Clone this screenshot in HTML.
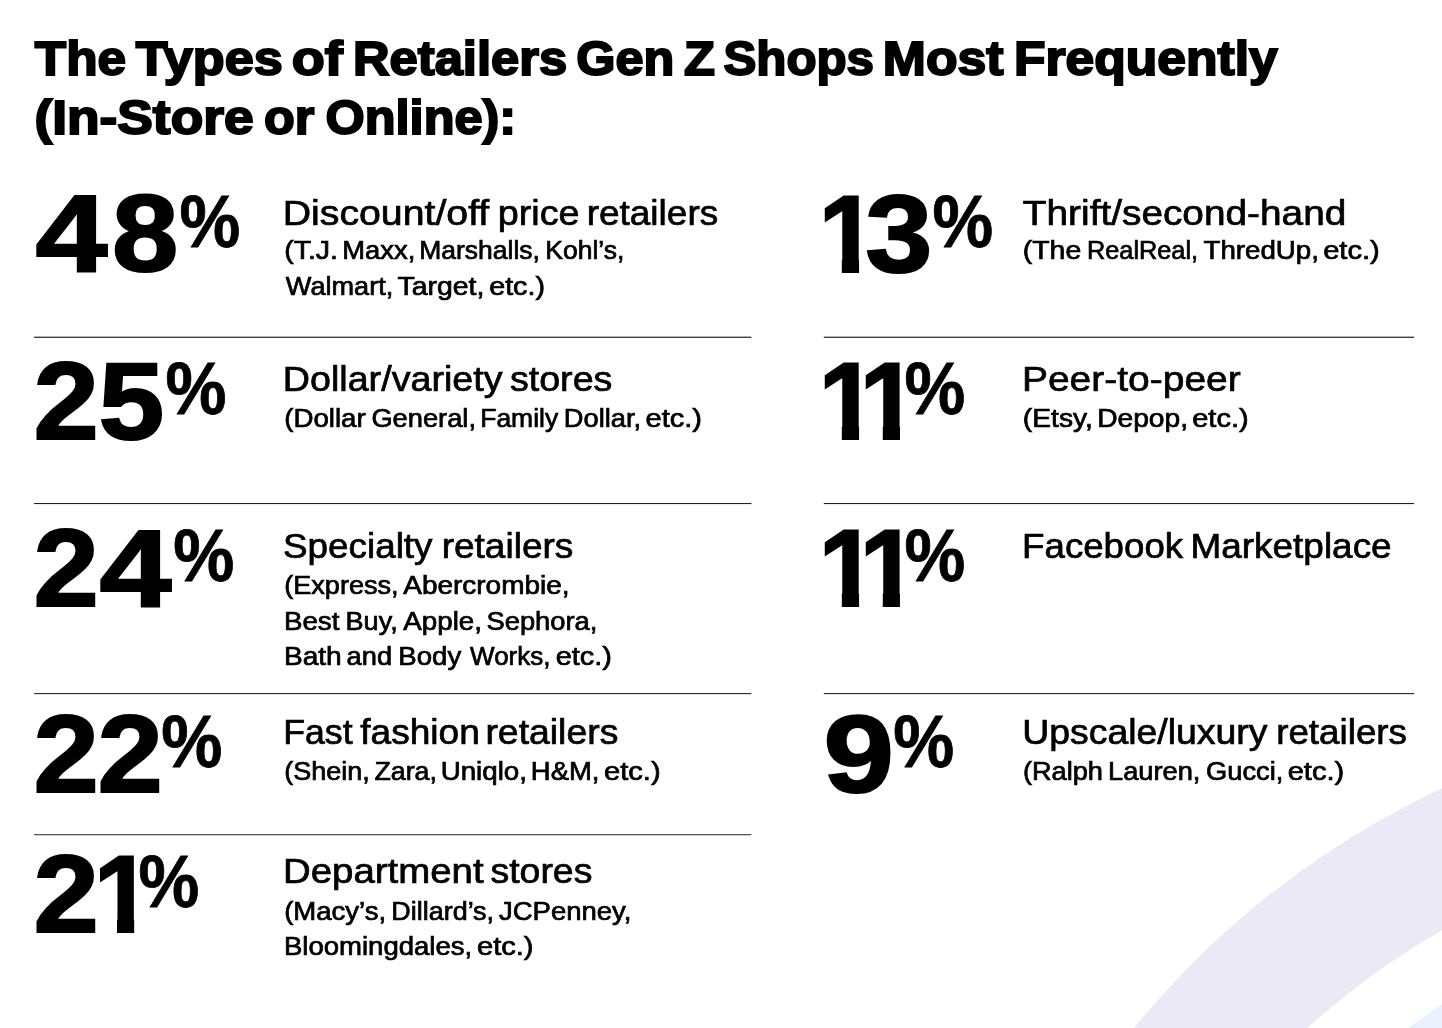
<!DOCTYPE html>
<html lang="en"><head><meta charset="utf-8"><title>The Types of Retailers Gen Z Shops Most Frequently</title>
<style>
html,body{margin:0;padding:0;background:#fff}
body{width:1442px;height:1028px;position:relative;overflow:hidden}
#bg{position:absolute;left:0;top:0}
.t{position:absolute;left:0;top:0;white-space:nowrap;line-height:1;font-family:"Liberation Sans",sans-serif;color:#000;transform-origin:0 0;-webkit-text-stroke-color:#000}
h1,div,p{margin:0;padding:0;font-size:inherit;font-weight:inherit}
.title{font-size:48.3px;font-weight:700;-webkit-text-stroke-width:2.0px}
.num{font-size:110.2px;font-weight:700;-webkit-text-stroke-width:2.0px}
.pct{font-size:73.3px;font-weight:700;-webkit-text-stroke-width:0.8px}
.head{font-size:34.3px;font-weight:400;-webkit-text-stroke-width:0.7px}
.sub{font-size:25.0px;font-weight:400;-webkit-text-stroke-width:0.7px}
</style></head>
<body>
<svg id="bg" width="1442" height="1028" viewBox="0 0 1442 1028"><circle cx="1812.5" cy="1583.6" r="877.1" fill="#ebe9f6"/><circle cx="1812.5" cy="1583.6" r="750.9" fill="#fff"/><circle cx="1812.5" cy="1583.6" r="687.2" fill="#eaf0fd"/><rect x="34.1" y="336.68" width="717.3" height="1.12" fill="#111"/><rect x="34.1" y="503.07" width="717.3" height="1.0" fill="#111"/><rect x="34.1" y="693.14" width="717.3" height="1.0" fill="#111"/><rect x="34.1" y="834.29" width="717.3" height="0.92" fill="#111"/><rect x="823.8" y="336.68" width="590.3" height="1.12" fill="#111"/><rect x="823.8" y="503.07" width="590.3" height="1.0" fill="#111"/><rect x="823.8" y="693.14" width="590.3" height="1.0" fill="#111"/></svg>
<h1><span class="t title" style="transform:translate(34.78px,34px) scaleX(1.0635)">The</span> <span class="t title" style="transform:translate(135.79px,34px) scaleX(1.0801)">Types</span> <span class="t title" style="transform:translate(291.80px,34px) scaleX(1.1206)">of</span> <span class="t title" style="transform:translate(352.96px,34px) scaleX(1.0496)">Retailers</span> <span class="t title" style="transform:translate(576.17px,34px) scaleX(1.0444)">Gen</span> <span class="t title" style="transform:translate(683.94px,34px) scaleX(1.0499)">Z</span> <span class="t title" style="transform:translate(723.39px,34px) scaleX(1.0208)">Shops</span> <span class="t title" style="transform:translate(882.81px,34px) scaleX(1.0714)">Most</span> <span class="t title" style="transform:translate(1013.92px,34px) scaleX(1.0684)">Frequently</span> <span class="t title" style="transform:translate(34.39px,93px) scaleX(1.1042)">(In-Store</span> <span class="t title" style="transform:translate(263.97px,93px) scaleX(1.0426)">or</span> <span class="t title" style="transform:translate(325.47px,93px) scaleX(1.0454)">Online):</span></h1>
<div><div><span class="t num" style="transform:translate(35.62px,178px) scaleX(1.1749)">4</span><span class="t num" style="transform:translate(111.89px,178px) scaleX(1.0834)">8</span><span class="t pct" style="transform:translate(179.57px,186px) scaleX(0.9323)">%</span></div>
<p><span class="t head" style="transform:translate(282.68px,196px) scaleX(1.1446)">Discount/off</span> <span class="t head" style="transform:translate(497.68px,196px) scaleX(1.1008)">price</span> <span class="t head" style="transform:translate(586.63px,196px) scaleX(1.0785)">retailers</span> <span class="t sub" style="transform:translate(284.13px,238px) scaleX(1.1416)">(T.J.</span> <span class="t sub" style="transform:translate(342.24px,238px) scaleX(1.0951)">Maxx,</span> <span class="t sub" style="transform:translate(419.30px,238px) scaleX(1.0585)">Marshalls,</span> <span class="t sub" style="transform:translate(545.30px,238px) scaleX(1.0596)">Kohl’s,</span> <span class="t sub" style="transform:translate(285.83px,274px) scaleX(1.0844)">Walmart,</span> <span class="t sub" style="transform:translate(397.56px,274px) scaleX(1.1354)">Target,</span> <span class="t sub" style="transform:translate(489.18px,274px) scaleX(1.1475)">etc.)</span></p>
</div>
<div><div><span class="t num" style="transform:translate(33.39px,346px) scaleX(1.0662)">2</span><span class="t num" style="transform:translate(98.47px,346px) scaleX(1.0728)">5</span><span class="t pct" style="transform:translate(165.46px,353px) scaleX(0.9355)">%</span></div>
<p><span class="t head" style="transform:translate(282.80px,362px) scaleX(1.0981)">Dollar/variety</span> <span class="t head" style="transform:translate(509.88px,362px) scaleX(1.0975)">stores</span> <span class="t sub" style="transform:translate(284.17px,406px) scaleX(1.1082)">(Dollar</span> <span class="t sub" style="transform:translate(371.40px,406px) scaleX(1.0906)">General,</span> <span class="t sub" style="transform:translate(480.20px,406px) scaleX(1.0592)">Family</span> <span class="t sub" style="transform:translate(563.85px,406px) scaleX(1.0894)">Dollar,</span> <span class="t sub" style="transform:translate(645.57px,406px) scaleX(1.1582)">etc.)</span></p>
</div>
<div><div><span class="t num" style="transform:translate(33.39px,513px) scaleX(1.0662)">2</span><span class="t num" style="transform:translate(99.42px,513px) scaleX(1.1749)">4</span><span class="t pct" style="transform:translate(173.26px,520px) scaleX(0.9371)">%</span></div>
<p><span class="t head" style="transform:translate(282.93px,529px) scaleX(1.0747)">Specialty</span> <span class="t head" style="transform:translate(441.63px,529px) scaleX(1.0802)">retailers</span> <span class="t sub" style="transform:translate(284.20px,573px) scaleX(1.0833)">(Express,</span> <span class="t sub" style="transform:translate(403.31px,573px) scaleX(1.1178)">Abercrombie,</span> <span class="t sub" style="transform:translate(283.91px,609px) scaleX(1.1100)">Best</span> <span class="t sub" style="transform:translate(345.56px,609px) scaleX(1.0830)">Buy,</span> <span class="t sub" style="transform:translate(403.31px,609px) scaleX(1.1088)">Apple,</span> <span class="t sub" style="transform:translate(486.49px,609px) scaleX(1.0930)">Sephora,</span> <span class="t sub" style="transform:translate(283.89px,644px) scaleX(1.1254)">Bath</span> <span class="t sub" style="transform:translate(346.62px,644px) scaleX(1.0894)">and</span> <span class="t sub" style="transform:translate(398.32px,644px) scaleX(1.1044)">Body</span> <span class="t sub" style="transform:translate(470.11px,644px) scaleX(1.0393)">Works,</span> <span class="t sub" style="transform:translate(555.67px,644px) scaleX(1.1539)">etc.)</span></p>
</div>
<div><div><span class="t num" style="transform:translate(33.39px,699px) scaleX(1.0662)">2</span><span class="t num" style="transform:translate(97.49px,699px) scaleX(1.0662)">2</span><span class="t pct" style="transform:translate(161.36px,706px) scaleX(0.9371)">%</span></div>
<p><span class="t head" style="transform:translate(283.24px,715px) scaleX(1.0396)">Fast</span> <span class="t head" style="transform:translate(360.25px,715px) scaleX(1.0815)">fashion</span> <span class="t head" style="transform:translate(485.41px,715px) scaleX(1.0895)">retailers</span> <span class="t sub" style="transform:translate(284.20px,759px) scaleX(1.0802)">(Shein,</span> <span class="t sub" style="transform:translate(374.43px,759px) scaleX(1.0701)">Zara,</span> <span class="t sub" style="transform:translate(440.64px,759px) scaleX(1.1098)">Uniqlo,</span> <span class="t sub" style="transform:translate(530.84px,759px) scaleX(1.0966)">H&amp;M,</span> <span class="t sub" style="transform:translate(603.96px,759px) scaleX(1.1646)">etc.)</span></p>
</div>
<div><div><span class="t num" style="transform:translate(33.39px,839px) scaleX(1.0662)">2</span><span class="t num" style="clip-path:polygon(0 0,42.2px 0,42.2px 112px,24.3px 112px,24.3px 80px,0 80px);transform:translate(93.71px,839px) scaleX(0.9587)">1</span><span class="t pct" style="transform:translate(138.47px,846px) scaleX(0.9323)">%</span></div>
<p><span class="t head" style="transform:translate(283.05px,854px) scaleX(1.1190)">Department</span> <span class="t head" style="transform:translate(490.48px,854px) scaleX(1.0910)">stores</span> <span class="t sub" style="transform:translate(284.18px,899px) scaleX(1.1002)">(Macy’s,</span> <span class="t sub" style="transform:translate(391.37px,899px) scaleX(1.0764)">Dillard’s,</span> <span class="t sub" style="transform:translate(498.98px,899px) scaleX(1.0993)">JCPenney,</span> <span class="t sub" style="transform:translate(283.93px,934px) scaleX(1.1013)">Bloomingdales,</span> <span class="t sub" style="transform:translate(476.97px,934px) scaleX(1.1625)">etc.)</span></p>
</div>
<div><div><span class="t num" style="clip-path:polygon(0 0,42.2px 0,42.2px 112px,24.3px 112px,24.3px 80px,0 80px);transform:translate(818.49px,179px) scaleX(0.9614)">1</span><span class="t num" style="transform:translate(865.13px,179px) scaleX(1.0955)">3</span><span class="t pct" style="transform:translate(932.57px,186px) scaleX(0.9307)">%</span></div>
<p><span class="t head" style="transform:translate(1022.83px,196px) scaleX(1.1312)">Thrift/second-hand</span> <span class="t sub" style="transform:translate(1022.83px,238px) scaleX(1.1348)">(The</span> <span class="t sub" style="transform:translate(1086.98px,238px) scaleX(1.0117)">RealReal,</span> <span class="t sub" style="transform:translate(1203.47px,238px) scaleX(1.1079)">ThredUp,</span> <span class="t sub" style="transform:translate(1323.16px,238px) scaleX(1.1646)">etc.)</span></p>
</div>
<div><div><span class="t num" style="clip-path:polygon(0 0,42.2px 0,42.2px 112px,24.3px 112px,24.3px 80px,0 80px);transform:translate(818.49px,346px) scaleX(0.9614)">1</span><span class="t num" style="clip-path:polygon(0 0,42.2px 0,42.2px 112px,24.3px 112px,24.3px 80px,0 80px);transform:translate(859.51px,346px) scaleX(0.9587)">1</span><span class="t pct" style="transform:translate(904.47px,353px) scaleX(0.9323)">%</span></div>
<p><span class="t head" style="transform:translate(1021.90px,362px) scaleX(1.1366)">Peer-to-peer</span> <span class="t sub" style="transform:translate(1022.84px,406px) scaleX(1.1289)">(Etsy,</span> <span class="t sub" style="transform:translate(1097.18px,406px) scaleX(1.1268)">Depop,</span> <span class="t sub" style="transform:translate(1192.27px,406px) scaleX(1.1582)">etc.)</span></p>
</div>
<div><div><span class="t num" style="clip-path:polygon(0 0,42.2px 0,42.2px 112px,24.3px 112px,24.3px 80px,0 80px);transform:translate(818.49px,513px) scaleX(0.9614)">1</span><span class="t num" style="clip-path:polygon(0 0,42.2px 0,42.2px 112px,24.3px 112px,24.3px 80px,0 80px);transform:translate(859.51px,513px) scaleX(0.9587)">1</span><span class="t pct" style="transform:translate(904.47px,520px) scaleX(0.9323)">%</span></div>
<p><span class="t head" style="transform:translate(1022.07px,529px) scaleX(1.0696)">Facebook</span> <span class="t head" style="transform:translate(1190.45px,529px) scaleX(1.0771)">Marketplace</span></p>
</div>
<div><div><span class="t num" style="transform:translate(823.55px,699px) scaleX(1.1504)">9</span><span class="t pct" style="transform:translate(893.36px,706px) scaleX(0.9355)">%</span></div>
<p><span class="t head" style="transform:translate(1022.19px,715px) scaleX(1.0906)">Upscale/luxury</span> <span class="t head" style="transform:translate(1276.14px,715px) scaleX(1.0727)">retailers</span> <span class="t sub" style="transform:translate(1022.89px,759px) scaleX(1.0875)">(Ralph</span> <span class="t sub" style="transform:translate(1108.05px,759px) scaleX(1.0896)">Lauren,</span> <span class="t sub" style="transform:translate(1206.11px,759px) scaleX(1.0896)">Gucci,</span> <span class="t sub" style="transform:translate(1287.67px,759px) scaleX(1.1625)">etc.)</span></p>
</div>
</body></html>
